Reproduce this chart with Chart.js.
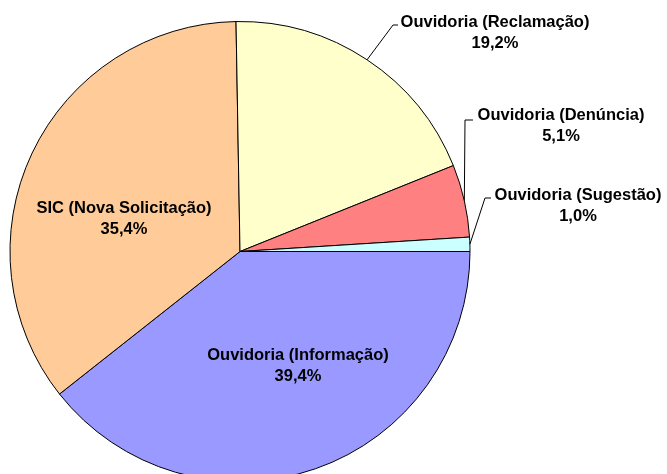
<!DOCTYPE html>
<html lang="pt-BR">
<head>
<meta charset="UTF-8">
<title>Solicitações por tipo</title>
<script src="https://cdn.jsdelivr.net/npm/chart.js"></script>
<style>
  body { margin: 0; background: #fff; overflow: hidden; }
  #wrap { position: relative; width: 667px; height: 510px; }
</style>
</head>
<body>
<div id="wrap"><canvas id="myChart"></canvas></div>
<script>
var categorias = ['Ouvidoria (Informação)', 'SIC (Nova Solicitação)', 'Ouvidoria (Reclamação)', 'Ouvidoria (Denúncia)', 'Ouvidoria (Sugestão)'];
var percentuais = [39.4, 35.4, 19.2, 5.1, 1.0];
var cores = ['#9999FF', '#FFCC99', '#FFFFCC', '#FF8080', '#CCFFFF'];

// label placement: inside labels sit in the slice, outside ones get a leader line
var rotulos = [
  { dentro: true, x: 298, y: 354 },
  { dentro: true, x: 124, y: 207 },
  { dentro: false, x: 495, y: 21, cotoveloX: 393, cotoveloY: 25, fimX: 398 },
  { dentro: false, x: 561, y: 114, cotoveloX: 465, cotoveloY: 120, fimX: 473 },
  { dentro: false, x: 578, y: 194, cotoveloX: 485, cotoveloY: 198, fimX: 491 }
];

function fmt(v) {
  return v.toFixed(1).replace('.', ',') + '%';
}

var rotuloPlugin = {
  id: 'rotulos',
  afterDraw: function (chart) {
    var ctx = chart.ctx;
    var arcs = chart.getDatasetMeta(0).data;
    ctx.save();
    ctx.font = 'bold 16.5px "Liberation Sans", Arial, sans-serif';
    ctx.fillStyle = '#000';
    ctx.textAlign = 'center';
    ctx.textBaseline = 'alphabetic';
    arcs.forEach(function (arc, i) {
      var r = rotulos[i];
      var p = arc.getProps(['x', 'y', 'startAngle', 'endAngle', 'outerRadius'], true);
      if (!r.dentro) {
        var meio = (p.startAngle + p.endAngle) / 2;
        var ex = p.x + Math.cos(meio) * p.outerRadius;
        var ey = p.y + Math.sin(meio) * p.outerRadius;
        ctx.beginPath();
        ctx.strokeStyle = '#000';
        ctx.lineWidth = 1;
        ctx.moveTo(ex, ey);
        ctx.lineTo(r.cotoveloX, r.cotoveloY);
        ctx.lineTo(r.fimX, r.cotoveloY);
        ctx.stroke();
      }
      ctx.fillText(categorias[i], r.x, r.y + 6);
      ctx.fillText(fmt(percentuais[i]), r.x, r.y + 27);
    });
    ctx.restore();
  }
};

const ctx = document.getElementById('myChart').getContext('2d');
new Chart(ctx, {
  type: 'pie',
  data: {
    labels: categorias,
    datasets: [{
      data: percentuais,
      backgroundColor: cores,
      borderColor: '#000',
      borderWidth: 1
    }]
  },
  options: {
    responsive: true,
    maintainAspectRatio: false,
    animation: false,
    rotation: 90,
    layout: { padding: { left: 9, right: 196, top: 21, bottom: 28 } },
    plugins: {
      legend: { display: false },
      tooltip: { enabled: false }
    }
  },
  plugins: [rotuloPlugin]
});
</script>
</body>
</html>
